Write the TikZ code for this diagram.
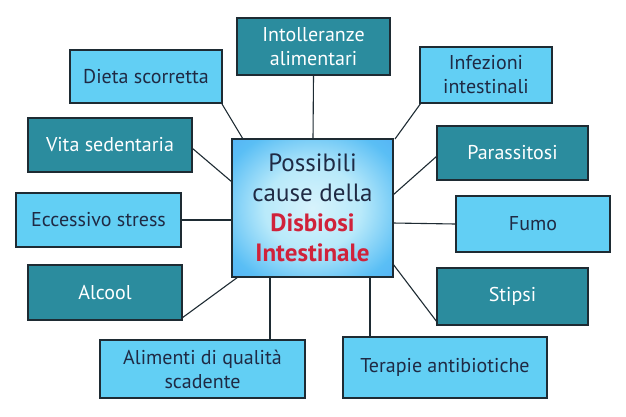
\documentclass[tikz,border=0pt]{standalone}
\usepackage{fontspec}
\setmainfont{PT Sans}
\usetikzlibrary{shadings}
\definecolor{teal1}{HTML}{2B8C9E}
\definecolor{lb}{HTML}{62CFF4}
\definecolor{bd}{HTML}{1E2B33}
\definecolor{navy}{HTML}{1F2A44}
\definecolor{rd}{HTML}{D0223A}
\tikzset{
 box/.style={draw=bd,line width=1.2pt,align=center,font=\fontsize{20}{24}\selectfont,inner sep=0pt},
 dk/.style={box,fill=teal1,text=white},
 lt/.style={box,fill=lb,text=navy},
 ln/.style={draw=bd,line width=1.1pt}
}
\begin{document}
\begin{tikzpicture}[x=1pt,y=-1pt]
\useasboundingbox (0,0) rectangle (626,416);
\pgfdeclareradialshading{cs}{\pgfpoint{0bp}{0bp}}{color(0bp)=(white!75!lb); color(15bp)=(white!55!lb); color(30bp)=(lb!92!blue); color(50bp)=(lb!75!blue)}
\node[box,shading=cs,minimum width=161pt,minimum height=138pt,font=\fontsize{25}{30}\selectfont] (c) at (312.5,208) {\textcolor{navy}{Possibili}\\\textcolor{navy}{cause della}\\\textcolor{rd}{\textbf{Disbiosi}}\\\textcolor{rd}{\textbf{Intestinale}}};
\node[dk,minimum width=153pt,minimum height=57pt] (a1) at (313.5,46.5) {Intolleranze\\alimentari};
\node[lt,minimum width=152pt,minimum height=53pt] (a2) at (146,76.5) {Dieta scorretta};
\node[lt,minimum width=132pt,minimum height=56pt] (a3) at (486,75) {Infezioni\\intestinali};
\node[dk,minimum width=164pt,minimum height=54pt] (a4) at (110,145) {Vita sedentaria};
\node[dk,minimum width=151pt,minimum height=54pt] (a5) at (512.5,153) {Parassitosi};
\node[lt,minimum width=165pt,minimum height=54pt] (a6) at (98.5,220) {Eccessivo stress};
\node[lt,minimum width=154pt,minimum height=56pt] (a7) at (533,224) {Fumo};
\node[dk,minimum width=154pt,minimum height=55pt] (a8) at (105,292.5) {Alcool};
\node[dk,minimum width=151pt,minimum height=57pt] (a9) at (512.5,296.5) {Stipsi};
\node[lt,minimum width=205pt,minimum height=58pt] (a10) at (202.5,369) {Alimenti di qualità\\scadente};
\node[lt,minimum width=204pt,minimum height=61pt] (a11) at (445,367.5) {Terapie antibiotiche};
\coordinate (c1) at (313,139); \coordinate (c2) at (243,139);
\coordinate (c3) at (395,139); \coordinate (c4) at (232,182);
\coordinate (c5) at (393,195); \coordinate (c6) at (232,220);
\coordinate (c7) at (393,223); \coordinate (c8) at (238,277);
\coordinate (c9) at (393,264); \coordinate (c10) at (270,277);
\coordinate (c11) at (370,277);
\coordinate (e2) at (222,104); \coordinate (e4) at (192,148);
\coordinate (e3) at (421,103); \coordinate (e5) at (437,156);
\coordinate (e8) at (182,318); \coordinate (e9) at (437,322);
\draw[ln] (a1.south) -- (c1);
\draw[ln] (e2) -- (c2);
\draw[ln] (e3) -- (c3);
\draw[ln] (e4) -- (c4);
\draw[ln] (e5) -- (c5);
\draw[ln] (a6.east) -- (c6);
\draw[ln] (a7.west) -- (c7);
\draw[ln] (e8) -- (c8);
\draw[ln] (e9) -- (c9);
\draw[ln] (c10) -- (c10|-a10.north);
\draw[ln] (c11) -- (c11|-a11.north);
\end{tikzpicture}
\end{document}
